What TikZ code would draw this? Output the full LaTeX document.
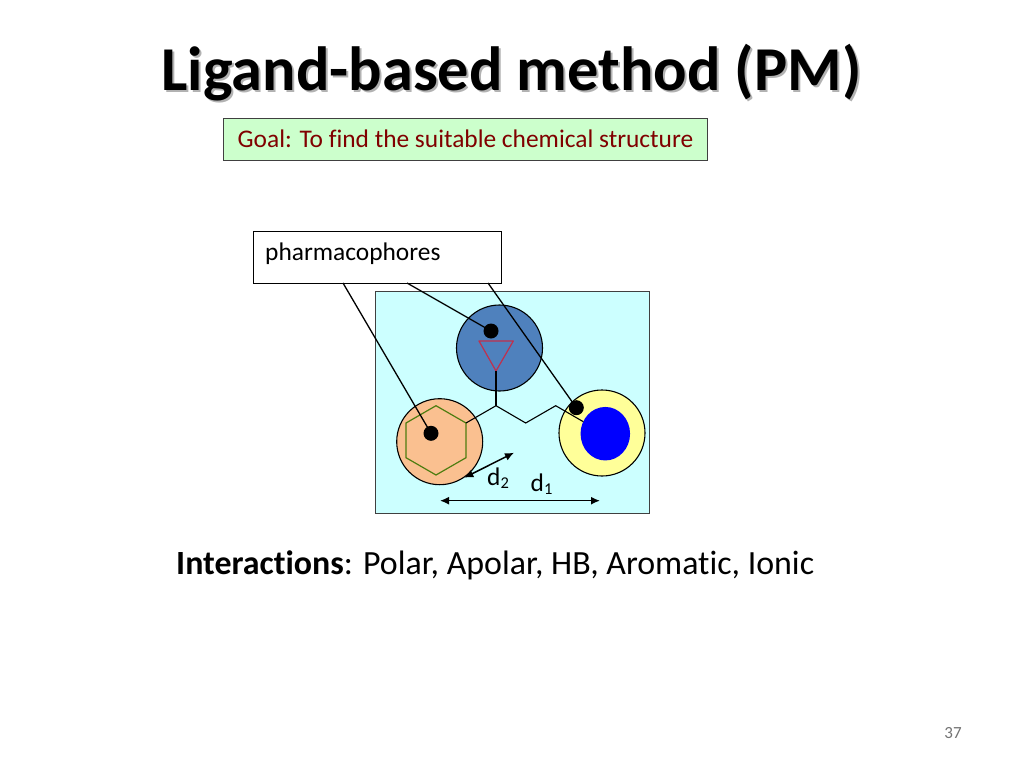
\documentclass[tikz,border=0pt]{standalone}
\usepackage{fontspec}
\setmainfont[Ligatures=NoCommon]{Carlito}
\usetikzlibrary{arrows.meta,shapes.geometric}
\definecolor{panelc}{HTML}{CCFFFF}
\definecolor{bluec}{HTML}{4F81BD}
\definecolor{orangec}{HTML}{FAC090}
\definecolor{yellowc}{HTML}{FFFF99}
\definecolor{goalc}{HTML}{CCFFCC}
\definecolor{goaltext}{HTML}{800000}
\definecolor{edgec}{HTML}{404040}
\definecolor{tric}{HTML}{C0304D}
\definecolor{hexc}{HTML}{4E7D10}
\tikzset{
  px/.style={x=1pt,y=-1pt},
  site/.style={circle,draw=black,line width=1.1pt,minimum size=86pt,inner sep=0pt},
  dotmark/.style={circle,fill=black,minimum size=15pt,inner sep=0pt},
  leader/.style={draw=black,line width=1.3pt},
  bond/.style={draw=black,line width=1.1pt},
  dim/.style={draw=black,line width=1.5pt,{Latex[length=9pt,width=8pt]}-{Latex[length=9pt,width=8pt]}},
  lbl/.style={inner sep=0pt,text=black}
}
\newcommand{\pxfont}[1]{\fontsize{#1}{#1}\selectfont}
\begin{document}
\begin{tikzpicture}[px]
\useasboundingbox[fill=white] (0,0) rectangle (1024,768);
% title
\node[lbl,anchor=center] (title) at (511.5,74) {\pxfont{62.4}\bfseries\rlap{\hspace{2pt}\raisebox{-2pt}{\textcolor{black!30}{Ligand-based method (PM)}}}Ligand-based method (PM)};
% goal
\node[draw=edgec,line width=1pt,fill=goalc,text=goaltext,minimum width=484pt,minimum height=41.5pt,inner sep=0pt,anchor=north west] (goal) at (223,118) {\pxfont{25.4}Goal: To find the suitable chemical structure};
% panel
\node[draw=edgec,line width=1pt,fill=panelc,minimum width=274pt,minimum height=222pt,inner sep=0pt,anchor=north west] (panel) at (375,291) {};
% callout
\node[draw=black,line width=0.9pt,fill=white,minimum width=248pt,minimum height=52pt,inner sep=0pt,anchor=north west] (callout) at (253,231) {};
\node[lbl,anchor=west] (calltext) at (265,254) {\pxfont{25.4}pharmacophores};
% sites
\node[site,fill=bluec] (sitea) at (499.5,348) {};
\node[site,fill=orangec] (siteb) at (439.7,441.7) {};
\node[site,fill=yellowc] (sitec) at (602,433) {};
\node[ellipse,fill=blue,minimum width=49.5pt,minimum height=53.5pt,inner sep=0pt] (core) at (605.3,433.7) {};
% shapes
\draw[draw=tric,line width=1.2pt,line join=round] (479,341) -- (513.3,341) -- (496,371) -- cycle;
\draw[draw=hexc,line width=1.2pt] (436,405.7) -- (466,423) -- (466,457.7) -- (436,475) -- (406,457.7) -- (406,423) -- cycle;
% chain
\coordinate (j) at (496,405.7);
\draw[bond] (496,371) -- (j);
\draw[bond] (466,423) -- (j) -- (525.7,423) -- (555.7,405.7) -- (583.3,421.7);
% dots
\node[dotmark] (da) at (491,331) {};
\node[dotmark] (db) at (431,433.3) {};
\node[dotmark] (dc) at (576.3,407.7) {};
% leaders
\coordinate (la) at (343,283);
\coordinate (lb) at (407,283);
\coordinate (lc) at (488,283);
\draw[leader] (la) -- (db.center);
\draw[leader] (lb) -- (da.center);
\draw[leader] (lc) -- (dc.center);
% dims
\coordinate (d2a) at (464.3,477.7);
\coordinate (d2b) at (514,452.7);
\coordinate (d1a) at (440,500.7);
\coordinate (d1b) at (600,500.7);
\draw[dim] (d2a) -- (d2b);
\draw[dim] (d1a) -- (d1b);
\node[lbl,anchor=base west] (d2l) at (487,485) {\pxfont{25.4}d\raisebox{-3.5pt}{\pxfont{16.5}2}};
\node[lbl,anchor=base west] (d1l) at (530.5,491) {\pxfont{25.4}d\raisebox{-3.5pt}{\pxfont{16.5}1}};
% interactions
\node[lbl,anchor=base west] (inter) at (176,574) {\pxfont{33.9}\textbf{Interactions}: Polar, Apolar, HB, Aromatic, Ionic};
% page number
\node[lbl,anchor=center,text=black!55] (pg) at (953,733) {\pxfont{17}37};
\end{tikzpicture}
\end{document}
